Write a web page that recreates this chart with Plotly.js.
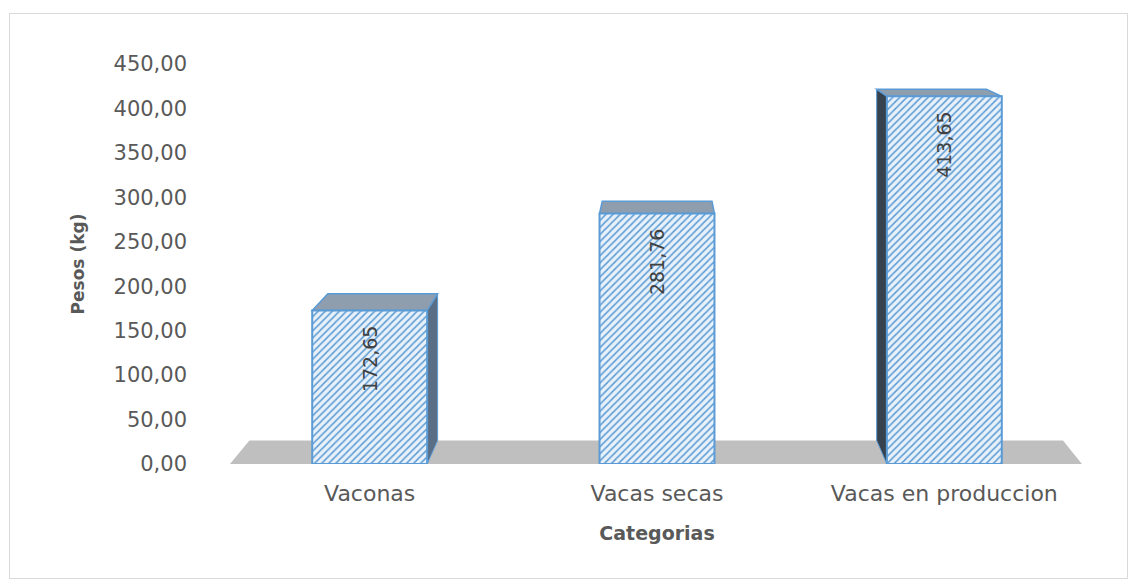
<!DOCTYPE html>
<html>
<head>
<meta charset="utf-8">
<script src="https://cdn.plot.ly/plotly-3.0.1.min.js"></script>
<style>
html,body{margin:0;padding:0;background:#ffffff;}
#chart{position:absolute;left:0;top:0;width:1135px;height:583px;}
#frame{position:absolute;left:9px;top:13px;width:1117px;height:564px;border:1.5px solid #d9d9d9;pointer-events:none;}
</style>
</head>
<body>
<div id="chart"></div>
<div id="frame"></div>
<script>
// ---- data ----
const categories = ['Vaconas', 'Vacas secas', 'Vacas en produccion'];
const pesos = [172.65, 281.76, 413.65];
const yTickValues = [0, 50, 100, 150, 200, 250, 300, 350, 400, 450];
const xTitle = 'Categorias';
const yTitle = 'Pesos (kg)';

// ---- styling / 3D look ----
const barWidth = 0.4;
const VP = {x: 1.01, y: 589.5};   // perspective vanishing point (data units)
const depth = 0.045;              // depth factor
const xIdx = categories.map((c, i) => i);

function back(p) { return {x: p.x + depth * (VP.x - p.x), y: p.y + depth * (VP.y - p.y)}; }
function path(pts) { return 'M ' + pts.map(p => p.x + ',' + p.y).join(' L ') + ' Z'; }

const shapes = [];
// floor
const fl = {x: -0.486, y: 0}, fr = {x: 2.479, y: 0};
shapes.push({type: 'path', xref: 'x', yref: 'y', layer: 'below',
  path: path([fl, fr, back(fr), back(fl)]), fillcolor: '#bfbfbf', line: {width: 0}});

xIdx.forEach((xc, i) => {
  const xl = xc - barWidth / 2, xr = xc + barWidth / 2, top = pesos[i];
  const TL = {x: xl, y: top}, TR = {x: xr, y: top}, BL = {x: xl, y: 0}, BR = {x: xr, y: 0};
  if (VP.x > xr) {
    shapes.push({type: 'path', xref: 'x', yref: 'y', layer: 'below',
      path: path([TR, BR, back(BR), back(TR)]), fillcolor: '#5a6f86', line: {color: '#5b9bd5', width: 1}});
  }
  if (VP.x < xl) {
    shapes.push({type: 'path', xref: 'x', yref: 'y', layer: 'below',
      path: path([TL, BL, back(BL), back(TL)]), fillcolor: '#36434f', line: {color: '#5b9bd5', width: 1}});
  }
  shapes.push({type: 'path', xref: 'x', yref: 'y', layer: 'below',
    path: path([TL, TR, back(TR), back(TL)]), fillcolor: '#8e9eaf', line: {color: '#5b9bd5', width: 1.5}});
});

const trace = {
  type: 'bar',
  x: xIdx,
  y: pesos,
  width: barWidth,
  marker: {
    color: '#e3eef8',
    line: {color: '#5b9bd5', width: 2},
    pattern: {shape: '/', fgcolor: '#5b9bd5', bgcolor: '#e8f1f9', size: 5, solidity: 0.3, fillmode: 'replace'}
  },
  texttemplate: '%{y:.2f}\u00a0\u00a0',
  textposition: 'inside',
  insidetextanchor: 'end',
  textangle: -90,
  constraintext: 'none',
  textfont: {family: 'DejaVu Sans', size: 19, color: '#404040'},
  hoverinfo: 'skip'
};

const tickFont = {family: 'DejaVu Sans', size: 21, color: '#595959'};
const layout = {
  width: 1135, height: 583,
  margin: {l: 226, r: 47, t: 64, b: 119},
  paper_bgcolor: 'rgba(0,0,0,0)',
  plot_bgcolor: 'rgba(0,0,0,0)',
  separators: ',.',
  showlegend: false,
  shapes: shapes,
  xaxis: {
    range: [-0.5, 2.5],
    tickvals: xIdx,
    ticktext: categories,
    showgrid: false, zeroline: false, showline: false, ticks: '',
    tickfont: {family: 'DejaVu Sans', size: 22, color: '#595959'},
    ticklabelstandoff: 14,
    title: {text: xTitle, standoff: 21, font: {family: 'DejaVu Sans', size: 19, color: '#595959', weight: 'bold'}}
  },
  yaxis: {
    range: [0, 450],
    tickvals: yTickValues,
    tickformat: '.2f',
    showgrid: false, zeroline: false, showline: false, ticks: '',
    tickfont: tickFont,
    ticklabelstandoff: 38,
    title: {text: yTitle, standoff: 24, font: {family: 'DejaVu Sans', size: 17, color: '#595959', weight: 'bold'}}
  }
};

Plotly.newPlot('chart', [trace], layout, {displayModeBar: false, staticPlot: true});
</script>
</body>
</html>
